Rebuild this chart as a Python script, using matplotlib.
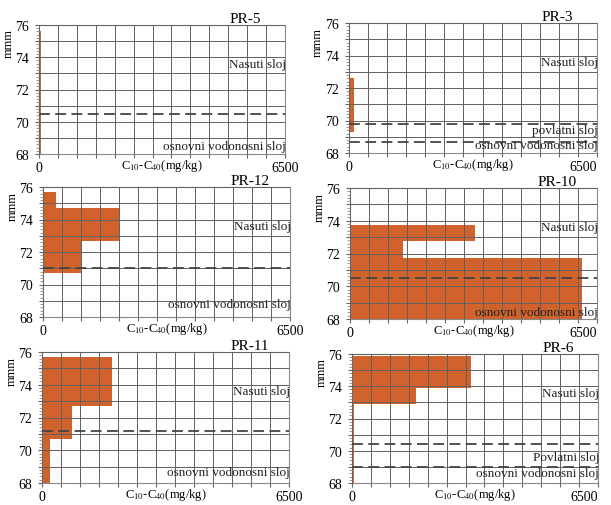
import matplotlib.pyplot as plt
from matplotlib.ticker import MultipleLocator, FuncFormatter

plt.rcParams['font.family'] = ['Liberation Serif', 'DejaVu Serif']
plt.rcParams['mathtext.fontset'] = 'stix'

titles = ['PR-5', 'PR-3', 'PR-12', 'PR-10', 'PR-11', 'PR-6']

# layer intervals (bottom, top) in m and C10-C40 concentration (mg/kg)
pr5_bottom = [68.0]
pr5_top = [75.65]
pr5_value = [50]

pr3_bottom = [69.3]
pr3_top = [72.6]
pr3_value = [120]

pr12_bottom = [74.7, 72.7, 70.7]
pr12_top = [75.7, 74.7, 72.7]
pr12_value = [350, 2000, 1000]

pr10_bottom = [72.75, 71.75, 68.0]
pr10_top = [73.75, 72.75, 71.75]
pr10_value = [3300, 1400, 6100]

pr11_bottom = [72.7, 70.7, 68.0]
pr11_top = [75.7, 72.7, 70.7]
pr11_value = [1850, 800, 220]

pr6_bottom = [73.9, 72.9, 68.0]
pr6_top = [75.9, 73.9, 72.9]
pr6_value = [3150, 1700, 60]

bottoms = [pr5_bottom, pr3_bottom, pr12_bottom, pr10_bottom, pr11_bottom, pr6_bottom]
tops = [pr5_top, pr3_top, pr12_top, pr10_top, pr11_top, pr6_top]
values = [pr5_value, pr3_value, pr12_value, pr10_value, pr11_value, pr6_value]

# layer boundaries (dashed lines)
boundaries = [[70.5], [69.8, 68.7], [71.0], [70.5], [71.2], [70.4, 69.0]]

# layer labels and their heights
layer_names = [
    ['Nasuti sloj', 'osnovni vodonosni sloj'],
    ['Nasuti sloj', 'povlatni sloj', 'osnovni vodonosni sloj'],
    ['Nasuti sloj', 'osnovni vodonosni sloj'],
    ['Nasuti sloj', 'osnovni vodonosni sloj'],
    ['Nasuti sloj', 'osnovni vodonosni sloj'],
    ['Nasuti sloj', 'Povlatni sloj', 'osnovni vodonosni sloj'],
]
layer_y = [
    [73.6, 68.5],
    [73.6, 69.4, 68.5],
    [73.6, 68.8],
    [73.6, 68.4],
    [73.6, 68.7],
    [73.6, 69.6, 68.6],
]

x_ticks = list(range(0, 6501, 500))
x_tick_labels = ['0'] + [''] * (len(x_ticks) - 2) + ['6500']

# axes positions in pixels (left, top, right, bottom)
W, H = 611, 506
boxes = [
    (39, 26, 285, 155), (349, 24, 597, 154),
    (43, 188, 290, 318), (350, 189, 597, 320),
    (42, 353, 289, 484), (352, 355, 598, 484),
]

y_lab = FuncFormatter(lambda v, p: '%d' % v if int(round(v)) % 2 == 0 else '')

fig = plt.figure(figsize=(W / 100, H / 100), dpi=100)

for i in range(6):
    l, t, r, b = boxes[i]
    ax = fig.add_axes([l / W, 1 - b / H, (r - l) / W, (b - t) / H])

    heights = [tp - bt for tp, bt in zip(tops[i], bottoms[i])]
    ax.barh(bottoms[i], values[i], height=heights, left=0, align='edge',
            color='#d2622b', linewidth=0, zorder=1)

    for yb in boundaries[i]:
        ax.axhline(yb, color='#444444', linestyle=(0, (6, 3)), linewidth=1.3, zorder=3)

    for name, yy in zip(layer_names[i], layer_y[i]):
        ax.text(1.005, yy, name, transform=ax.get_yaxis_transform(), ha='right',
                va='center', fontsize=9.5, color='#222222', zorder=4)

    ax.set_xlim(0, 6500)
    ax.set_ylim(68, 76)
    ax.set_xticks(x_ticks, labels=x_tick_labels)
    ax.yaxis.set_major_locator(MultipleLocator(1))
    ax.yaxis.set_minor_locator(MultipleLocator(0.2))
    ax.yaxis.set_major_formatter(y_lab)
    ax.grid(True, which='major', color='#606060', linewidth=0.7, zorder=2)
    ax.set_axisbelow(False)

    ax.tick_params(axis='both', which='major', labelsize=10, length=3,
                   color='#666666')
    ax.tick_params(axis='x', pad=2)
    ax.tick_params(axis='y', pad=4)
    ax.tick_params(axis='y', which='minor', length=2, color='#888888')
    for s in ax.spines.values():
        s.set_color('#888888')
        s.set_linewidth(0.8)

    if i % 2 == 1:
        ax.get_xticklabels()[-1].set_ha('right')

    ax.set_xlabel(r'C$_{10}$-C$_{40}$(mg/kg)', fontsize=9, labelpad=-12)
    ax.set_ylabel('mmm', fontsize=9)
    ax.yaxis.set_label_coords(-0.1, 0.86)
    ax.set_title(titles[i], fontsize=11, x=0.84, pad=1)

fig.savefig('out.png', dpi=100)
